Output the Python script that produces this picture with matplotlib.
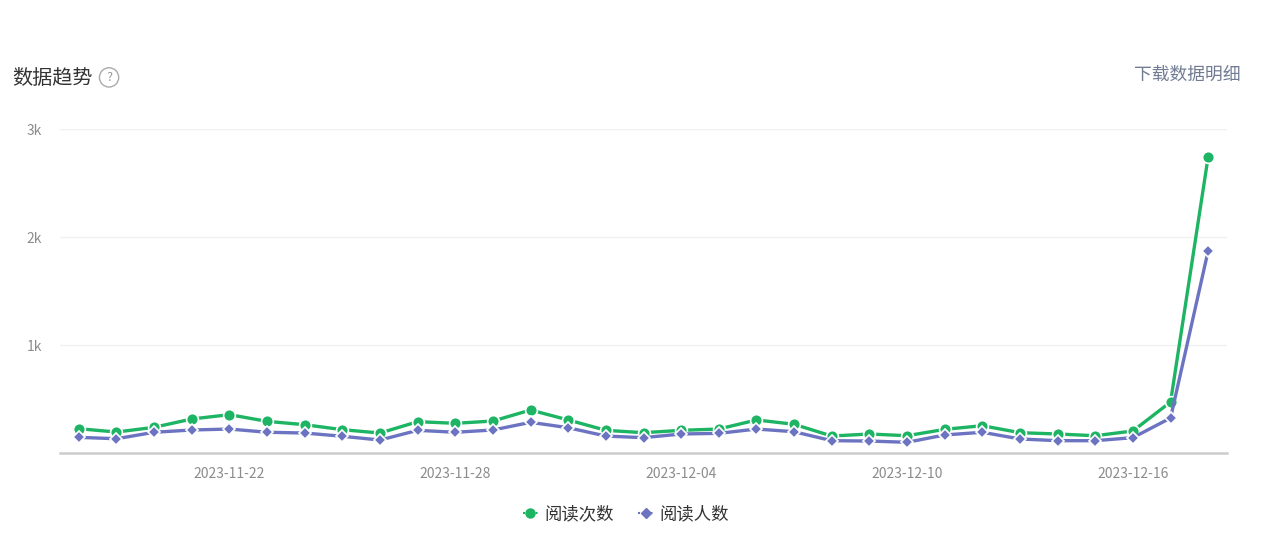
import numpy as np
import pandas as pd
import matplotlib
matplotlib.use("Agg")
import matplotlib.pyplot as plt
from matplotlib.lines import Line2D

plt.rcParams['font.family'] = ['Noto Sans CJK SC', 'DejaVu Sans']

# daily categories, 2023-11-18 .. 2023-12-18
dates = pd.date_range('2023-11-18', '2023-12-18', freq='D').strftime('%Y-%m-%d').tolist()

# 阅读次数 (reads) and 阅读人数 (readers)
reads = [225, 194, 238, 315, 355, 293, 262, 216, 185, 290,
         275, 296, 398, 306, 210, 188, 210, 222, 306, 266,
         157, 176, 160, 219, 253, 188, 176, 160, 204, 472, 2744]
readers = [145, 132, 192, 213, 222, 192, 185, 155, 120, 210,
           192, 213, 284, 234, 157, 142, 176, 182, 222, 197,
           114, 111, 99, 167, 192, 130, 114, 114, 142, 324, 1873]

yticks = [1000, 2000, 3000]
ytick_labels = ['1k', '2k', '3k']

green = '#1db463'
purple = '#6c74c2'

fig = plt.figure(figsize=(12.8, 5.45), dpi=100)
ax = fig.add_axes([0.0469, 0.1688, 0.9117, 0.5945])

x = np.arange(len(dates))
ax.plot(x, reads, color=green, lw=2.4, marker='o', ms=8.5, mfc=green,
        mec='white', mew=1.2, zorder=3)
ax.plot(x, readers, color=purple, lw=2.4, marker='D', ms=6.5, mfc=purple,
        mec='white', mew=1.2, zorder=3)

ax.set_xlim(-0.5, len(dates) - 0.5)
ax.set_ylim(0, 3000)

ax.set_yticks(yticks)
ax.set_yticklabels(ytick_labels)
ax.set_xticks(x[4::6])
ax.set_xticklabels(dates[4::6])
ax.tick_params(axis='both', length=0, labelsize=10, colors='#8c8c8c')
ax.tick_params(axis='x', pad=10)
ax.tick_params(axis='y', pad=13)

ax.grid(axis='y', color='#f0f0f0', lw=1)
ax.set_axisbelow(True)
for s in ['top', 'right', 'left']:
    ax.spines[s].set_visible(False)
ax.spines['bottom'].set_color('#cccccc')
ax.spines['bottom'].set_linewidth(1.8)

fig.text(0.0094, 0.856, '数据趋势', fontsize=14.5, color='#333333', va='center', ha='left')
fig.text(0.0852, 0.858, '?', fontsize=9, color='#999999', va='center', ha='center',
         bbox=dict(boxstyle='circle,pad=0.25', fc='white', ec='#aaaaaa', lw=1))
fig.text(0.969, 0.862, '下载数据明细', fontsize=12.8, color='#717c93', va='center', ha='right')

handles = [
    Line2D([], [], color=green, lw=1.5, ls=(0, (1, 1)), marker='o', ms=6.5, mfc=green, mec=green),
    Line2D([], [], color=purple, lw=1.5, ls=(0, (1, 1)), marker='D', ms=4.8, mfc=purple, mec=purple),
]
fig.legend(handles, ['阅读次数', '阅读人数'], loc='center', bbox_to_anchor=(0.489, 0.057),
           ncol=2, frameon=False, fontsize=12.5, handlelength=0.9, columnspacing=1.4,
           handletextpad=0.35, labelcolor='#333333')

fig.savefig('out.png', dpi=100, facecolor='white')
